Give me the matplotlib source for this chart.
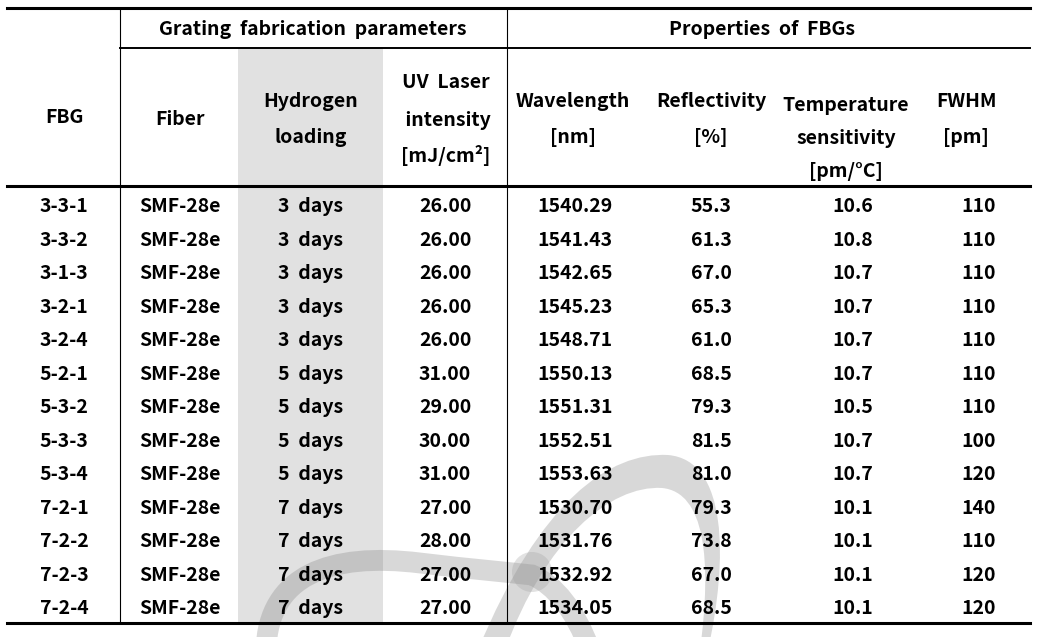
import matplotlib.pyplot as plt
from matplotlib.path import Path
from matplotlib.patches import PathPatch, Circle, Rectangle

plt.rcParams['font.family'] = ['Noto Sans CJK KR', 'DejaVu Sans']

# table data
fbg_ids = ['3-3-1', '3-3-2', '3-1-3', '3-2-1', '3-2-4', '5-2-1', '5-3-2',
           '5-3-3', '5-3-4', '7-2-1', '7-2-2', '7-2-3', '7-2-4']
fibers = ['SMF-28e'] * 13
hydrogen_days = [3, 3, 3, 3, 3, 5, 5, 5, 5, 7, 7, 7, 7]
uv_intensity = [26.00, 26.00, 26.00, 26.00, 26.00, 31.00, 29.00,
                30.00, 31.00, 27.00, 28.00, 27.00, 27.00]
wavelength = [1540.29, 1541.43, 1542.65, 1545.23, 1548.71, 1550.13, 1551.31,
              1552.51, 1553.63, 1530.70, 1531.76, 1532.92, 1534.05]
reflectivity = [55.3, 61.3, 67.0, 65.3, 61.0, 68.5, 79.3,
                81.5, 81.0, 79.3, 73.8, 67.0, 68.5]
temp_sens = [10.6, 10.8, 10.7, 10.7, 10.7, 10.7, 10.5,
             10.7, 10.7, 10.1, 10.1, 10.1, 10.1]
fwhm = [110, 110, 110, 110, 110, 110, 110, 100, 120, 140, 110, 120, 120]

group_titles = ['Grating  fabrication  parameters', 'Properties  of  FBGs']
headers = [['FBG'], ['Fiber'], ['Hydrogen', 'loading'],
           ['UV  Laser', ' intensity', '[mJ/cm²]'],
           ['Wavelength', '[nm]'], ['Reflectivity', '[%]'],
           ['Temperature', 'sensitivity', '[pm/°C]'], ['FWHM', '[pm]']]

W, H = 1037, 637
fig = plt.figure(figsize=(W / 100, H / 100), dpi=100)
ax = fig.add_axes([0, 0, 1, 1])
ax.set_xlim(0, W)
ax.set_ylim(H, 0)
ax.axis('off')

FS = 14
txt = dict(fontsize=FS, fontweight='bold', color='black', ha='center',
           va='baseline', zorder=5)

# shaded hydrogen column
ax.add_patch(Rectangle((238, 48), 145, 574, color='#e1e1e1', lw=0, zorder=0))

# faint logo watermark
wm_col, wm_a = '#808080', 0.3
swoosh = Path([(266, 650), (268, 575), (330, 552), (420, 563),
               (470, 569), (505, 572), (532, 575),
               (555, 585), (575, 610), (590, 650)],
              [Path.MOVETO, Path.CURVE4, Path.CURVE4, Path.CURVE4,
               Path.CURVE4, Path.CURVE4, Path.CURVE4,
               Path.CURVE4, Path.CURVE4, Path.CURVE4])
ax.add_patch(PathPatch(swoosh, lw=15, facecolor='none', edgecolor=wm_col,
                       alpha=wm_a, capstyle='butt', zorder=2))
crescent = Path([(478, 650), (540, 500), (610, 452), (668, 455),
                 (728, 460), (728, 560), (708, 650),
                 (700, 650), (712, 560), (705, 492), (662, 488),
                 (610, 485), (545, 540), (505, 650), (478, 650)],
                [Path.MOVETO, Path.CURVE4, Path.CURVE4, Path.CURVE4,
                 Path.CURVE4, Path.CURVE4, Path.CURVE4,
                 Path.LINETO, Path.CURVE4, Path.CURVE4, Path.CURVE4,
                 Path.CURVE4, Path.CURVE4, Path.CURVE4, Path.CLOSEPOLY])
ax.add_patch(PathPatch(crescent, facecolor=wm_col, edgecolor='none',
                       alpha=wm_a, zorder=2))
ax.add_patch(Circle((532, 572), 20, facecolor='#a0a0a0', edgecolor='none',
                    alpha=wm_a, zorder=2))

# rules
ax.plot([7, 1030], [8, 8], color='black', lw=2.2, zorder=4)
ax.plot([120, 1030], [47.5, 47.5], color='black', lw=1.4, zorder=4)
ax.plot([7, 1030], [186, 186], color='black', lw=2.2, zorder=4)
ax.plot([7, 1030], [623, 623], color='black', lw=2.2, zorder=4)
for xv in (120, 507):
    ax.plot([xv, xv], [8, 623], color='black', lw=0.8, zorder=4)

# group titles
ax.text(313, 35, group_titles[0], **txt)
ax.text(762, 35, group_titles[1], **txt)

# column headers
head_x = [64, 180, 311, 446, 573, 711, 846, 966]
head_y = [[123], [125], [107, 143], [88, 126, 162], [107, 143], [107, 143],
          [111, 144, 177], [107, 143]]
for hx, lines, ys in zip(head_x, headers, head_y):
    for line, hy in zip(lines, ys):
        ax.text(hx, hy, line, **txt)

# body rows
data_x = [64, 180, 311, 445, 575, 711, 853, 979]
row0, step = 212.3, 33.48
for i in range(len(fbg_ids)):
    y = row0 + i * step
    cells = [fbg_ids[i], fibers[i], f'{hydrogen_days[i]}  days',
             f'{uv_intensity[i]:.2f}', f'{wavelength[i]:.2f}',
             f'{reflectivity[i]:.1f}', f'{temp_sens[i]:.1f}', f'{fwhm[i]}']
    for cx, c in zip(data_x, cells):
        ax.text(cx, y, c, **txt)

fig.savefig('out.png', dpi=100)
